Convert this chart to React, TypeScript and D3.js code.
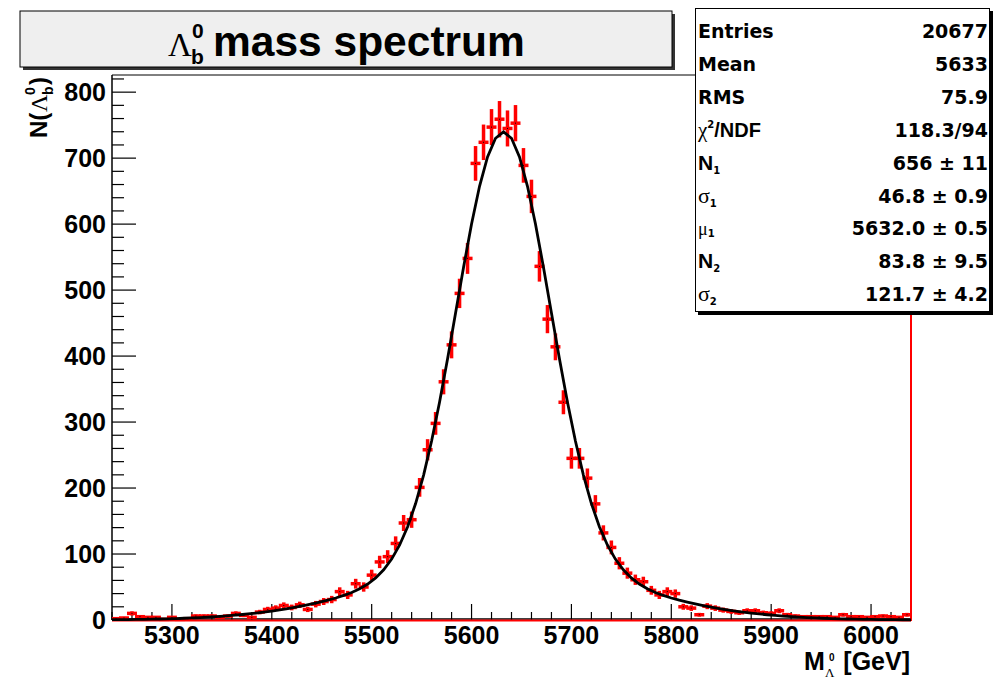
import React from 'react';
import * as d3 from 'd3';

// ---- data ----
const binLow = 5240;
const binHigh = 6040;
const binWidth = 8;
const counts: number[] = [
  2, 3, 10, 5, 4, 4, 1, 4, 1, 2,
  6, 6, 6, 4, 6, 10, 7, 4, 12, 16,
  18, 22, 19, 23, 16, 24, 28, 31, 43, 38,
  55, 50, 68, 88, 96, 116, 147, 152, 201, 258,
  298, 361, 417, 495, 548, 692, 724, 747, 759, 745,
  753, 689, 642, 536, 456, 414, 330, 245, 245, 215,
  176, 132, 110, 86, 71, 61, 58, 45, 38, 43,
  40, 20, 18, 8, 21, 18, 15, 13, 11, 14,
  14, 11, 10, 14, 8, 6, 5, 5, 5, 5,
  4, 8, 5, 5, 4, 5, 6, 5, 4, 8,
];
// fit parameters (double gaussian, common mean)
const fitN1 = 656;
const fitSigma1 = 46.8;
const fitMu1 = 5632.0;
const fitN2 = 83.8;
const fitSigma2 = 121.7;

const xTicks = [5300, 5400, 5500, 5600, 5700, 5800, 5900, 6000];
const yTicks = [0, 100, 200, 300, 400, 500, 600, 700, 800];
const statValues = ['20677', '5633', '75.9', '118.3/94', '656 \u00b1 11', '46.8 \u00b1 0.9', '5632.0 \u00b1 0.5', '83.8 \u00b1 9.5', '121.7 \u00b1 4.2'];

const SANS = '"Liberation Sans", Arial, Helvetica, sans-serif';
const SERIF = '"Liberation Serif", "Times New Roman", serif';
const STAT = '"DejaVu Sans", "Liberation Sans", sans-serif';

function fitFn(m: number) {
  const d = m - fitMu1;
  return fitN1 * Math.exp(-0.5 * (d / fitSigma1) ** 2) + fitN2 * Math.exp(-0.5 * (d / fitSigma2) ** 2);
}

export default function App() {
  const W = 993, H = 679;
  const L = 112, R = 911, T = 75, B = 620;
  const x = d3.scaleLinear().domain([binLow, binHigh]).range([L, R]);
  const y = d3.scaleLinear().domain([0, 826]).range([B, T]);

  const bins = counts.map((c, i) => {
    const lo = binLow + i * binWidth;
    return { lo, hi: lo + binWidth, c: lo + binWidth / 2, v: c, e: Math.sqrt(c) };
  });

  const nPts = 100;
  const curve = d3.range(nPts + 1).map(i => {
    const m = binLow + (i * (binHigh - binLow)) / nPts;
    return [m, fitFn(m)] as [number, number];
  });
  const line = d3.line<[number, number]>().x(d => x(d[0])).y(d => y(d[1]));

  const xMinor = d3.range(binLow, binHigh + 0.1, 20);
  const yMinor = d3.range(0, 821, 20);

  const rowY = (i: number) => 31 + i * 32.9;

  return (
    <svg width={W} height={H} style={{ position: 'absolute', left: 0, top: 0, background: '#fff' }}>
      <rect x={0} y={0} width={W} height={H} fill="#fff" />
      <defs>
        <clipPath id="frame">
          <rect x={L} y={T} width={R - L + 2} height={B - T + 2} />
        </clipPath>
      </defs>

      {/* title box */}
      <rect x={23} y={14} width={652} height={56} fill="#333" />
      <rect x={20} y={11} width={652} height={56} fill="#efefef" stroke="#000" strokeWidth={1} />
      <text x={168} y={56} fontFamily={SERIF} fontSize={33}>{'\u039b'}</text>
      <text x={191} y={64} fontFamily={SANS} fontWeight="bold" fontSize={21}>b</text>
      <text x={192} y={38} fontFamily={SANS} fontWeight="bold" fontSize={21}>0</text>
      <text x={213} y={56} fontFamily={SANS} fontWeight="bold" fontSize={42.5}>mass spectrum</text>

      {/* frame top line */}
      <line x1={L} y1={T} x2={R} y2={T} stroke="#000" strokeWidth={1} />

      {/* axes */}
      <line x1={L} y1={T} x2={L} y2={B} stroke="#000" strokeWidth={1.5} />
      <line x1={L} y1={B - 1} x2={R} y2={B - 1} stroke="#000" strokeWidth={1.5} />
      {xMinor.map(t => {
        const major = xTicks.includes(t);
        return <line key={'xm' + t} x1={x(t)} x2={x(t)} y1={B} y2={B - (major ? 16 : 8)} stroke="#000" strokeWidth={1.2} />;
      })}
      {yMinor.map(t => {
        const major = t % 100 === 0;
        return <line key={'ym' + t} x1={L} x2={L + (major ? 24 : 12)} y1={y(t)} y2={y(t)} stroke="#000" strokeWidth={1.2} />;
      })}
      {xTicks.map(t => (
        <text key={'xl' + t} x={x(t)} y={644} textAnchor="middle" fontFamily={SANS} fontWeight="bold" fontSize={25}>{t}</text>
      ))}
      {yTicks.map(t => (
        <text key={'yl' + t} x={106} y={y(t) + 9} textAnchor="end" fontFamily={SANS} fontWeight="bold" fontSize={25}>{t}</text>
      ))}

      {/* y axis title */}
      <g transform={`translate(47,138) rotate(-90)`}>
        <text x={0} y={0} fontFamily={SANS} fontWeight="bold" fontSize={24}>N(</text>
        <text x={26} y={0} fontFamily={SERIF} fontSize={24}>{'\u039b'}</text>
        <text x={43} y={6} fontFamily={SANS} fontWeight="bold" fontSize={14}>b</text>
        <text x={43} y={-12} fontFamily={SANS} fontWeight="bold" fontSize={14}>0</text>
        <text x={53} y={0} fontFamily={SANS} fontWeight="bold" fontSize={24}>)</text>
      </g>

      {/* x axis title */}
      <text x={804} y={670} fontFamily={SANS} fontWeight="bold" fontSize={25}>M</text>
      <text x={825} y={677} fontFamily={SERIF} fontSize={13}>{'\u039b'}</text>
      <text x={829} y={661} fontFamily={SANS} fontWeight="bold" fontSize={10}>0</text>
      <text x={910} y={670} textAnchor="end" fontFamily={SANS} fontWeight="bold" fontSize={25}>[GeV]</text>

      {/* histogram */}
      <g clipPath="url(#frame)">
        <line x1={L} y1={B + 0.5} x2={R} y2={B + 0.5} stroke="#ff0000" strokeWidth={2} />
        <line x1={R} y1={T} x2={R} y2={B + 1} stroke="#ff0000" strokeWidth={2} />
        {bins.map((b, i) => (
          <g key={'b' + i} stroke="#ff0000" strokeWidth={3.5}>
            <line x1={x(b.lo) - 1} x2={x(b.hi) + 1} y1={y(b.v)} y2={y(b.v)} />
            <line x1={x(b.c)} x2={x(b.c)} y1={y(Math.max(0, b.v - b.e))} y2={y(b.v + b.e)} />
          </g>
        ))}
        {bins.map((b, i) => (
          <rect key={'d' + i} x={x(b.c) - 0.5} y={y(b.v) - 0.5} width={1} height={1} fill="#000" />
        ))}
        <path d={line(curve) || ''} fill="none" stroke="#000" strokeWidth={2.8} />
      </g>

      {/* stats box */}
      <rect x={698} y={11} width={295} height={304} fill="#000" />
      <rect x={695.5} y={8.5} width={294} height={303} fill="#fff" stroke="#000" strokeWidth={1} />
      <g fontFamily={STAT} fontWeight="bold" fontSize={19} fill="#000">
        <text x={698} y={rowY(0) + 7}>Entries</text>
        <text x={698} y={rowY(1) + 7}>Mean</text>
        <text x={698} y={rowY(2) + 7}>RMS</text>
        <text x={698} y={rowY(3) + 7}>
          <tspan fontFamily={SERIF} fontWeight="normal" fontSize={21}>{'\u03c7'}</tspan>
          <tspan fontSize={10} dy={-9}>2</tspan>
          <tspan dy={9} fontFamily={SANS} fontSize={20}>/NDF</tspan>
        </text>
        <text x={698} y={rowY(4) + 7}>
          <tspan fontFamily={SANS} fontSize={21}>N</tspan>
          <tspan fontSize={10} dy={4}>1</tspan>
        </text>
        <text x={698} y={rowY(5) + 7}>
          <tspan fontFamily={SERIF} fontWeight="normal" fontSize={22}>{'\u03c3'}</tspan>
          <tspan fontSize={10} dy={4}>1</tspan>
        </text>
        <text x={698} y={rowY(6) + 7}>
          <tspan fontFamily={SERIF} fontWeight="normal" fontSize={18}>{'\u03bc'}</tspan>
          <tspan fontSize={10} dy={2}>1</tspan>
        </text>
        <text x={698} y={rowY(7) + 7}>
          <tspan fontFamily={SANS} fontSize={21}>N</tspan>
          <tspan fontSize={10} dy={4}>2</tspan>
        </text>
        <text x={698} y={rowY(8) + 7}>
          <tspan fontFamily={SERIF} fontWeight="normal" fontSize={22}>{'\u03c3'}</tspan>
          <tspan fontSize={10} dy={4}>2</tspan>
        </text>
        {statValues.map((v, i) => (
          <text key={'sv' + i} x={988} y={rowY(i) + 7} textAnchor="end">{v}</text>
        ))}
      </g>
    </svg>
  );
}
